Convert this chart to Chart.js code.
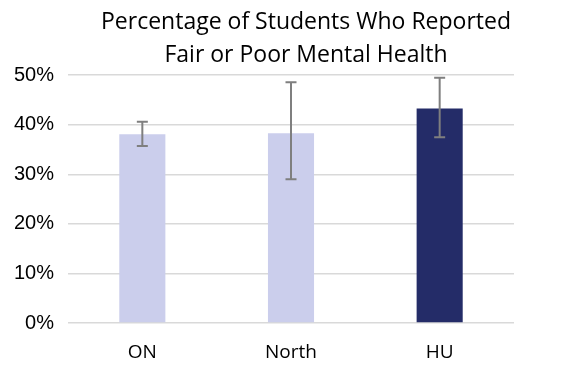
<!DOCTYPE html>
<html>
<head>
<meta charset="utf-8">
<script src="https://cdn.jsdelivr.net/npm/chart.js@4"></script>
<style>
  html, body { margin: 0; padding: 0; background: #fff; }
  #wrap { width: 572px; height: 365px; }
</style>
</head>
<body>
<div id="wrap"><canvas id="chart" width="572" height="365"></canvas></div>
<script>
// data
const regions = ["ON", "North", "HU"];
const pctFairPoor = [38.1, 38.3, 43.3];
const errLow = [35.7, 29.0, 37.5];
const errHigh = [40.6, 48.6, 49.5];
const barColors = ["#CBCEEC", "#CBCEEC", "#242C68"];

const FONT = "'Liberation Sans', Arial, sans-serif";
const FONT2 = "'Open Sans', sans-serif";

// error bars drawn with the chart's own scales
const errorBars = {
  id: "errorBars",
  afterDatasetsDraw(chart) {
    const ctx = chart.ctx;
    const x = chart.scales.x;
    const y = chart.scales.y;
    ctx.save();
    ctx.strokeStyle = "#7f7f7f";
    ctx.lineWidth = 2;
    regions.forEach(function (r, i) {
      const px = x.getPixelForValue(i);
      const top = y.getPixelForValue(errHigh[i]);
      const bot = y.getPixelForValue(errLow[i]);
      ctx.beginPath();
      ctx.moveTo(px, top); ctx.lineTo(px, bot);
      ctx.moveTo(px - 5.5, top); ctx.lineTo(px + 5.5, top);
      ctx.moveTo(px - 5.5, bot); ctx.lineTo(px + 5.5, bot);
      ctx.stroke();
    });
    ctx.restore();
  }
};

// title is centred a bit right of the canvas middle
const shiftTitle = {
  id: "shiftTitle",
  afterLayout(chart) {
    if (chart.titleBlock) {
      chart.titleBlock.left = 40;
      chart.titleBlock.right = 572;
    }
  }
};

new Chart(document.getElementById("chart"), {
  type: "bar",
  data: {
    labels: regions,
    datasets: [{
      data: pctFairPoor,
      backgroundColor: barColors,
      barPercentage: 0.31,
      categoryPercentage: 1
    }]
  },
  options: {
    responsive: false,
    animation: false,
    layout: { padding: { left: 0, right: 58, top: 0, bottom: 0 } },
    plugins: {
      legend: { display: false },
      tooltip: { enabled: false },
      title: {
        display: true,
        text: ["Percentage of Students Who Reported", "Fair or Poor Mental Health"],
        color: "#000",
        font: { family: FONT2, size: 23, weight: "normal", lineHeight: 1.44 },
        padding: { top: 6, bottom: 3 }
      }
    },
    scales: {
      x: {
        grid: { display: false },
        border: { display: false },
        ticks: { color: "#000", font: { family: FONT2, size: 19 }, padding: 10 },
        afterFit(s) { s.height = 42; }
      },
      y: {
        min: 0,
        max: 50,
        grid: { color: "#d9d9d9", lineWidth: 1.5, drawTicks: false },
        border: { display: false },
        ticks: {
          stepSize: 10,
          color: "#000",
          padding: 14,
          font: { family: FONT, size: 20 },
          callback: function (v) { return v + "%"; }
        },
        afterFit(s) { s.width = 68; }
      }
    }
  },
  plugins: [errorBars, shiftTitle]
});
</script>
</body>
</html>
